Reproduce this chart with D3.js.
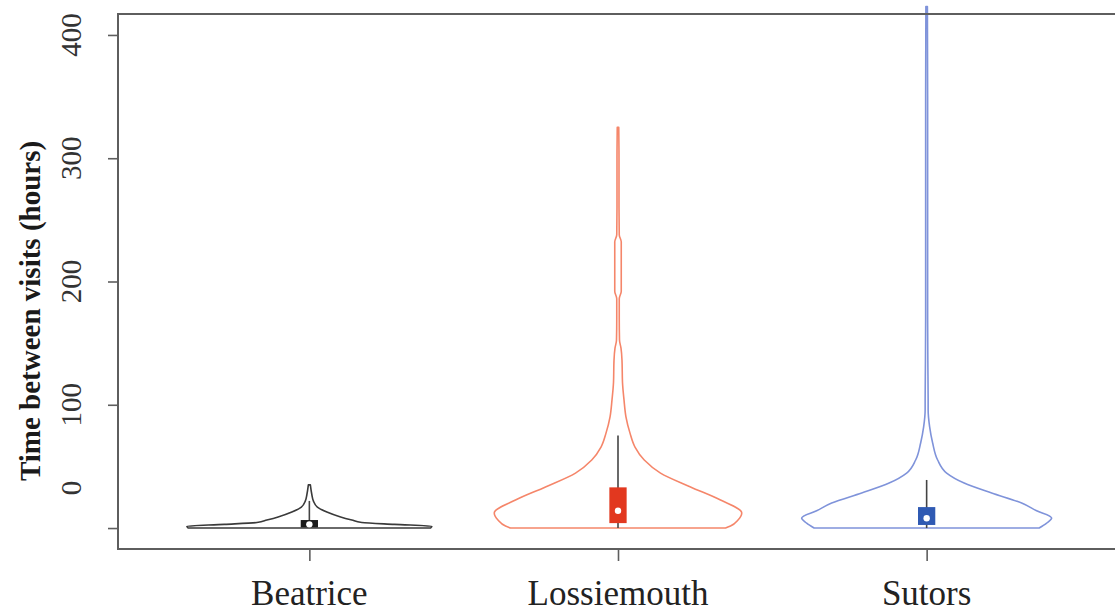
<!DOCTYPE html>
<html>
<head>
<meta charset="utf-8">
<script src="https://cdn.jsdelivr.net/npm/d3@7"></script>
<style>
  html, body { margin: 0; padding: 0; background: #fff; }
  svg { display: block; }
  text { font-family: "Liberation Serif", "Times New Roman", serif; }
</style>
</head>
<body>
<svg id="chart" width="1115" height="612"></svg>
<script>
// Sites shown along the x axis
const sites = ["Beatrice", "Lossiemouth", "Sutors"];

// Kernel density outline for each site: value (hours) and relative half-width (max = 1)
const beatriceValues  = [0, 1.5, 3, 4.5, 6.5, 9, 13, 17, 22, 27, 35];
const beatriceDensity = [0.97, 0.98, 0.68, 0.42, 0.34, 0.25, 0.14, 0.064, 0.032, 0.02, 0.008];

const lossieValues  = [0, 1.6, 6.5, 12.2, 22.7, 33.3, 44.6, 55.2, 65.7, 77, 90, 104, 118, 136, 146, 152.5, 170, 186, 192, 232, 238, 260, 300, 325];
const lossieDensity = [0.86, 0.9, 0.96, 0.99, 0.82, 0.58, 0.34, 0.21, 0.136, 0.096, 0.064, 0.048, 0.036, 0.032, 0.024, 0.012, 0.01, 0.01, 0.026, 0.026, 0.01, 0.008, 0.008, 0.006];

const sutorsValues  = [0, 4, 8.1, 14, 20.3, 28.4, 36.5, 44.6, 55.2, 69, 82, 95.7, 105, 130, 170, 250, 350, 423];
const sutorsDensity = [0.9, 0.96, 1.0, 0.88, 0.76, 0.52, 0.3, 0.16, 0.088, 0.048, 0.024, 0.012, 0.012, 0.01, 0.008, 0.008, 0.008, 0.006];

// Box-plot summaries: lower whisker, Q1, median, Q3, upper whisker
const whiskerLow  = [0, 0, 0];
const quartile1   = [0.5, 4, 2.5];
const medians     = [3, 14, 8];
const quartile3   = [6.5, 33, 17];
const whiskerHigh = [22, 75, 39];

// Y axis ticks and where each tick label sits
const yTicks       = [0, 100, 200, 300, 400];
const yTickLabels  = ["0", "100", "200", "300", "400"];
const yLabelValues = [32.5, 100, 200, 300, 400];

const yTitle = "Time between visits (hours)";

const outlineColors = ["#3a3a3a", "#f5866a", "#7f93da"];
const boxColors     = ["#1a1a1a", "#e2381f", "#2f5ab3"];

const svg = d3.select("#chart");
svg.append("rect").attr("width", 1115).attr("height", 612).attr("fill", "#fff");

const x = d3.scaleLinear().domain([0.38, 3.62]).range([118, 1118]);
const y = d3.scaleLinear().domain([-17, 417]).range([549, 14]);
const halfWidth = d3.scaleLinear().domain([0, 1]).range([0, 0.405]);

const series = [
  { values: beatriceValues, density: beatriceDensity },
  { values: lossieValues,   density: lossieDensity },
  { values: sutorsValues,   density: sutorsDensity }
];

// Violins
series.forEach((s, i) => {
  const c = i + 1;
  const pts = s.values.map((v, j) => ({ v, d: s.density[j] }));
  const area = d3.area()
    .y(p => y(p.v))
    .x0(p => x(c - halfWidth(p.d)))
    .x1(p => x(c + halfWidth(p.d)))
    .curve(d3.curveMonotoneY);
  svg.append("path")
    .attr("d", area(pts))
    .attr("fill", "#fff")
    .attr("stroke", outlineColors[i])
    .attr("stroke-width", 1.6)
    .attr("stroke-linejoin", "round");
});

// Box plots inside the violins
const boxHalf = 0.028;
sites.forEach((name, i) => {
  const c = i + 1;
  svg.append("line")
    .attr("x1", x(c)).attr("x2", x(c))
    .attr("y1", y(whiskerLow[i])).attr("y2", y(whiskerHigh[i]))
    .attr("stroke", "#444").attr("stroke-width", 1.6);
  svg.append("rect")
    .attr("x", x(c - boxHalf))
    .attr("width", x(c + boxHalf) - x(c - boxHalf))
    .attr("y", y(quartile3[i]))
    .attr("height", y(quartile1[i]) - y(quartile3[i]))
    .attr("fill", boxColors[i]);
  svg.append("circle")
    .attr("cx", x(c)).attr("cy", y(medians[i]))
    .attr("r", 3.2)
    .attr("fill", "#fff");
});

// Plot frame
svg.append("rect")
  .attr("x", x(0.38)).attr("y", y(417))
  .attr("width", x(3.62) - x(0.38))
  .attr("height", y(-17) - y(417))
  .attr("fill", "none")
  .attr("stroke", "#5e5e5e")
  .attr("stroke-width", 2);

// Y axis ticks
const yAxis = d3.axisLeft(y).tickValues(yTicks).tickSize(10).tickFormat("");
const gy = svg.append("g").attr("transform", `translate(${x(0.38)},0)`).call(yAxis);
gy.select(".domain").remove();
gy.selectAll(".tick line").attr("stroke", "#5e5e5e").attr("stroke-width", 1.6);

// Y tick labels, rotated
yTickLabels.forEach((t, i) => {
  svg.append("text")
    .attr("transform", `translate(81,${y(yLabelValues[i])}) rotate(-90)`)
    .attr("text-anchor", "middle")
    .attr("font-size", 29)
    .attr("fill", "#333")
    .text(t);
});

// X axis ticks and labels
const xAxis = d3.axisBottom(x).tickValues([1, 2, 3]).tickSize(12).tickFormat("");
const gx = svg.append("g").attr("transform", `translate(0,${y(-17)})`).call(xAxis);
gx.select(".domain").remove();
gx.selectAll(".tick line").attr("stroke", "#5e5e5e").attr("stroke-width", 1.6);

sites.forEach((name, i) => {
  svg.append("text")
    .attr("x", x(i + 1))
    .attr("y", 605)
    .attr("text-anchor", "middle")
    .attr("font-size", 35)
    .attr("fill", "#222")
    .text(name);
});

// Y axis title
svg.append("text")
  .attr("transform", "translate(40,311) rotate(-90)")
  .attr("text-anchor", "middle")
  .attr("font-size", 29)
  .attr("font-weight", "bold")
  .attr("fill", "#1a1a1a")
  .text(yTitle);
</script>
</body>
</html>
